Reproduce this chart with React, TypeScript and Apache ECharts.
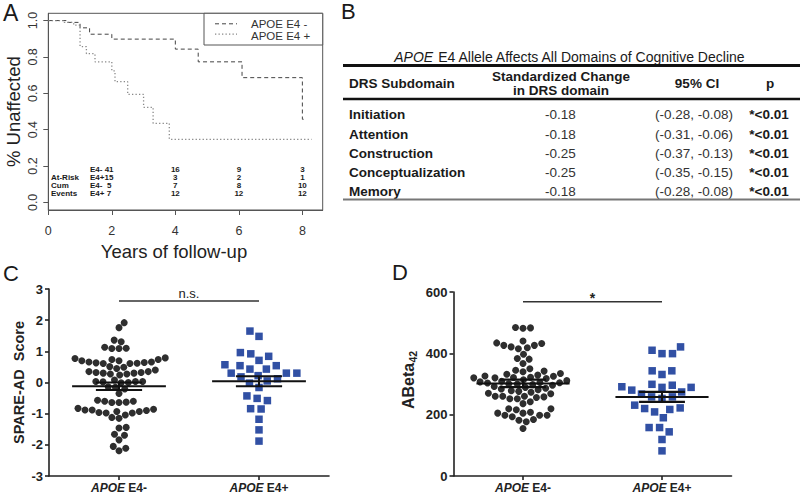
import React, { useEffect, useRef } from "react";
import * as echarts from "echarts";

const FONT = '"Liberation Sans", Arial, Helvetica, sans-serif';

// ---------------- Panel A: Kaplan-Meier ----------------
const kmNegYears = [0, 0.6, 1.0, 1.3, 2.0, 4.0, 4.72, 6.1, 8.0, 8.06];
const kmNegSurv = [1.0, 0.99, 0.96, 0.925, 0.898, 0.843, 0.773, 0.686, 0.457, 0.457];
const kmPosYears = [0, 0.5, 0.8, 1.0, 1.2, 1.47, 2.0, 2.1, 2.5, 3.0, 3.3, 3.81, 8.29];
const kmPosSurv = [1.0, 0.99, 0.975, 0.857, 0.818, 0.773, 0.723, 0.664, 0.594, 0.523, 0.435, 0.347, 0.347];
const kmLegend = ["APOE E4 -", "APOE E4 +"];
const xTicksA = [0, 2, 4, 6, 8];
const yTicksA = [0, 0.2, 0.4, 0.6, 0.8, 1.0];
const riskYears = [4, 6, 8];
const riskRowNames = ["", "At-Risk", "Cum", "Events"];
const riskGroupPrefix = ["E4- ", "E4+", "E4- ", "E4+"];
const atRiskNeg = [41, 16, 9, 3];
const atRiskPos = [15, 3, 2, 1];
const cumEventsNeg = [5, 7, 8, 10];
const cumEventsPos = [7, 12, 12, 12];

// ---------------- Panel B: table ----------------
const tableTitleItalic = "APOE";
const tableTitleRest = " E4 Allele Affects All Domains of Cognitive Decline";
const tableHeaders = ["DRS Subdomain", "Standardized Change", "in DRS domain", "95% CI", "p"];
const domains = ["Initiation", "Attention", "Construction", "Conceptualization", "Memory"];
const stdChange = [-0.18, -0.18, -0.25, -0.25, -0.18];
const ciLow = [-0.28, -0.31, -0.37, -0.35, -0.28];
const ciHigh = [-0.08, -0.06, -0.13, -0.15, -0.08];
const pValues = ["*<0.01", "*<0.01", "*<0.01", "*<0.01", "*<0.01"];

// ---------------- Panels C & D: dot plots ----------------
const groupNames = ["E4-", "E4+"];
const spareNeg = [
  1.92, 1.76, 1.31, 1.36, 1.10, 1.09, 1.09, 1.13,
  0.77, 0.74, 0.70, 0.66, 0.64, 0.62, 0.61, 0.61, 0.63, 0.66, 0.70, 0.74, 0.79,
  0.51, 0.45, 0.35, 0.32, 0.30, 0.27, 0.24, 0.27, 0.30, 0.32, 0.35, 0.40, 0.49,
  0.03, 0.03, 0.0, -0.01, 0.03, 0.02, 0.08, -0.15, -0.21, -0.14, -0.35,
  -0.60, -0.63, -0.64, -0.64, -0.60, -0.57,
  -0.86, -0.88, -0.93, -0.96, -0.98, -1.04, -0.98, -0.93, -0.90, -0.88, -0.83,
  -1.15, -1.12,
  -1.46, -1.44, -1.69, -1.66, -1.84, -2.05, -2.19, -2.11,
];
const sparePos = [
  1.65, 1.48, 0.96, 0.84, 0.92, 0.71, 0.54, 0.43, 0.43, 0.54, 0.57, 0.30, 0.22, 0.30,
  0.30, 0.12, 0.05, 0.18, -0.02, -0.16, -0.43, -0.51, -0.58, -0.85, -0.84, -1.18, -1.52, -1.88,
];
const spareMean = [-0.12, 0.04];
const spareSem = [0.12, 0.16];
const spareSig = { y: 2.615, label: "n.s." };

const abetaNeg = [
  484, 482, 483,
  432, 426, 418, 440, 415, 421, 426, 434,
  383, 397, 381, 367, 350,
  345, 340, 332, 325, 321, 320, 320, 322, 326, 329, 334, 342,
  318, 314, 311, 309, 307, 305, 304, 303, 301, 300, 298, 296,
  292, 289, 286, 284, 281, 278, 276, 273, 270, 268,
  260, 260, 256, 252, 236, 242, 252, 258, 260,
  219, 216, 205, 198, 198, 193, 198, 205, 208, 219,
  182, 177, 184, 155,
];
const abetaPos = [
  421, 399, 399, 410, 343, 331, 343, 296, 289, 289, 291, 299, 274, 280, 267,
  258, 253, 258, 222, 217, 209, 220, 231, 190, 144, 158, 158, 119, 82,
];
const abetaMean = [302, 258];
const abetaSem = [12, 16];
const abetaSig = { y: 568, label: "*" };

// ---------------- layout ----------------
const GA = { left: 48.3, top: 13.3, width: 274.4, height: 196.7, xMax: 8.64, yMin: -0.042, yMax: 1.04 };
const GC = { left: 49, top: 289, width: 280, height: 187 };
const GD = { left: 453.5, top: 292, width: 278, height: 184 };

function swarm(values: number[], pxPerUnitY: number, diam: number): number[] {
  const order = values.map((_, i) => i).sort((a, b) => values[a] - values[b]);
  const placed: { x: number; y: number }[] = [];
  const out: number[] = new Array(values.length).fill(0);
  let side = 1;
  for (const i of order) {
    const y = values[i] * pxPerUnitY;
    const forb: [number, number][] = [];
    for (const p of placed) {
      const dy = Math.abs(p.y - y);
      if (dy < diam) {
        const dx = Math.sqrt(diam * diam - dy * dy);
        forb.push([p.x - dx, p.x + dx]);
      }
    }
    const cands = [0];
    forb.forEach(([a, b]) => cands.push(a, b));
    const ok = cands.filter((c) => forb.every(([a, b]) => c <= a + 1e-6 || c >= b - 1e-6));
    let best = Infinity;
    ok.forEach((c) => (best = Math.min(best, Math.abs(c))));
    const near = ok.filter((c) => Math.abs(c) - best < 0.6);
    let pick = near.find((c) => Math.sign(c) === side);
    if (pick === undefined) pick = near[0];
    if (pick !== 0) side = -side;
    out[i] = pick;
    placed.push({ x: pick, y });
  }
  return out;
}

function dotData(values: number[], cat: number, pxY: number, pxX: number, diam: number) {
  const offs = swarm(values, pxY, diam);
  return values.map((v, i) => [cat + offs[i] / pxX, v]);
}

function buildOption() {
  const pxYC = GC.height / 6;
  const pxXC = GC.width / 2;
  const pxYD = GD.height / 600;
  const pxXD = GD.width / 2;
  const xPixA = (v: number) => GA.left + (v * GA.width) / GA.xMax;

  const errBars = (meanArr: number[], semArr: number[], xi: number) => ({
    type: "custom",
    xAxisIndex: xi,
    yAxisIndex: xi,
    z: 5,
    silent: true,
    encode: { x: 0, y: 1 },
    data: meanArr.map((m, i) => [i, m, semArr[i]]),
    renderItem: (_p: any, api: any) => {
      const c = api.value(0), m = api.value(1), s = api.value(2);
      const L = (x1: number, y1: number, x2: number, y2: number, w: number) => {
        const a = api.coord([x1, y1]);
        const b = api.coord([x2, y2]);
        return { type: "line", shape: { x1: a[0], y1: a[1], x2: b[0], y2: b[1] }, style: { stroke: "#111", lineWidth: w } };
      };
      return {
        type: "group",
        children: [
          L(c - 0.335, m, c + 0.335, m, 2),
          L(c - 0.165, m + s, c + 0.165, m + s, 2.2),
          L(c - 0.165, m - s, c + 0.165, m - s, 2.2),
          L(c, m - s, c, m + s, 2),
        ],
      };
    },
  });

  const sigBar = (sig: { y: number; label: string }, xi: number) => ({
    type: "custom",
    xAxisIndex: xi,
    yAxisIndex: xi,
    z: 5,
    silent: true,
    encode: { x: [0, 1], y: 2 },
    data: [[0, 1, sig.y]],
    renderItem: (_p: any, api: any) => {
      const a = api.coord([api.value(0), api.value(2)]);
      const b = api.coord([api.value(1), api.value(2)]);
      const star = sig.label === "*";
      return {
        type: "group",
        children: [
          { type: "line", shape: { x1: a[0], y1: a[1], x2: b[0], y2: b[1] }, style: { stroke: "#333", lineWidth: 1.5 } },
          {
            type: "text",
            x: (a[0] + b[0]) / 2,
            y: a[1] - (star ? 3.5 : 7.5),
            style: {
              text: sig.label,
              fill: "#222",
              fontSize: star ? 14 : 13,
              fontWeight: star ? "bold" : "normal",
              fontFamily: FONT,
              align: "center",
              verticalAlign: "middle",
            },
          },
        ],
      };
    },
  });

  const catAxis = (gi: number) => ({
    gridIndex: gi,
    type: "value",
    min: -0.5,
    max: 1.5,
    axisLine: { show: true, onZero: false, lineStyle: { color: "#222", width: 1.6 } },
    axisTick: { show: true, customValues: [0, 1], length: 4, lineStyle: { color: "#222", width: 1.6 } },
    axisLabel: {
      customValues: [0, 1],
      margin: 6,
      formatter: (v: number) => `{i|APOE}{b| ${groupNames[Math.round(v)]}}`,
      rich: {
        i: { fontStyle: "italic", fontWeight: "bold", fontSize: 12, fontFamily: FONT, color: "#222" },
        b: { fontWeight: "bold", fontSize: 12, fontFamily: FONT, color: "#222" },
      },
    },
    splitLine: { show: false },
  });

  const valAxis = (gi: number, min: number, max: number, interval: number) => ({
    gridIndex: gi,
    type: "value",
    min,
    max,
    interval,
    axisLine: { show: true, onZero: false, lineStyle: { color: "#222", width: 1.6 } },
    axisTick: { show: true, length: 4, lineStyle: { color: "#222", width: 1.6 } },
    axisLabel: { fontWeight: "bold", fontSize: 13, color: "#222", margin: 6, fontFamily: FONT },
    splitLine: { show: false },
  });

  const txt = (x: number, y: number, text: string, o: any = {}) => ({
    type: "text",
    x,
    y,
    silent: true,
    style: { text, fill: "#1a1a1a", fontSize: 13, fontFamily: FONT, align: "left", verticalAlign: "middle", ...o },
  });
  const hline = (x1: number, x2: number, y: number, w: number, c: string) => ({
    type: "line",
    silent: true,
    shape: { x1, y1: y, x2, y2: y },
    style: { stroke: c, lineWidth: w },
  });

  const graphic: any[] = [];
  // panel letters
  graphic.push(txt(3, 12.5, "A", { fontSize: 23 }));
  graphic.push(txt(341, 11.5, "B", { fontSize: 22 }));
  graphic.push(txt(3, 273, "C", { fontSize: 22 }));
  graphic.push(txt(392, 272, "D", { fontSize: 22 }));

  // panel A titles
  graphic.push({
    type: "group", x: 13, y: GA.top + GA.height / 2, rotation: Math.PI / 2, silent: true,
    children: [txt(0, 0, "% Unaffected", { fontSize: 18.5, align: "center", fill: "#222" })],
  });
  graphic.push(txt(174, 251.7, "Years of follow-up", { fontSize: 18.5, align: "center", fill: "#222" }));

  // panel A legend
  graphic.push({ type: "rect", silent: true, shape: { x: 204, y: GA.top, width: GA.left + GA.width - 204, height: 31.7 }, style: { fill: "#fff", stroke: "#555", lineWidth: 1 }, z: 10 });
  graphic.push({ type: "line", silent: true, z: 11, shape: { x1: 215, y1: 23.8, x2: 237, y2: 23.8 }, style: { stroke: "#444", lineWidth: 1, lineDash: [4, 3] } });
  graphic.push({ type: "line", silent: true, z: 11, shape: { x1: 215, y1: 34.2, x2: 237, y2: 34.2 }, style: { stroke: "#888", lineWidth: 1.3, lineDash: [1.3, 2.2] } });
  graphic.push({ ...txt(251, 24, kmLegend[0], { fontSize: 11.5, fill: "#333" }), z: 11 });
  graphic.push({ ...txt(251, 35.6, kmLegend[1], { fontSize: 11.5, fill: "#333" }), z: 11 });

  // at-risk / cumulative events table
  const riskRows = [atRiskNeg, atRiskPos, cumEventsNeg, cumEventsPos];
  const riskRowY = [169, 177, 185, 193];
  const rb = { fontSize: 8, fontWeight: "bold", fill: "#1a1a1a" };
  riskRows.forEach((row, r) => {
    if (riskRowNames[r]) graphic.push(txt(51, riskRowY[r], riskRowNames[r], rb));
    graphic.push(txt(90, riskRowY[r], riskGroupPrefix[r] + String(row[0]).padStart(2, " "), rb));
    riskYears.forEach((yr, k) => {
      graphic.push(txt(xPixA(yr), riskRowY[r], String(row[k + 1]), { ...rb, align: "center" }));
    });
  });

  // panel B table
  graphic.push({
    type: "text", x: 570, y: 56.7, silent: true,
    style: {
      text: `{i|${tableTitleItalic}}${tableTitleRest}`,
      fill: "#1a1a1a", fontSize: 14, fontFamily: FONT, align: "center", verticalAlign: "middle",
      rich: { i: { fontStyle: "italic", fontSize: 14, fontFamily: FONT, fill: "#1a1a1a" } },
    },
  });
  graphic.push(hline(343, 800, 65.5, 3, "#111"));
  const hb = { fontWeight: "bold", fontSize: 13.5 };
  graphic.push(txt(349, 83.5, tableHeaders[0], hb));
  graphic.push(txt(561, 76.7, tableHeaders[1], { ...hb, align: "center" }));
  graphic.push(txt(561, 90.3, tableHeaders[2], { ...hb, align: "center" }));
  graphic.push(txt(697, 83.5, tableHeaders[3], { ...hb, align: "center" }));
  graphic.push(txt(770, 83, tableHeaders[4], { ...hb, align: "center" }));
  graphic.push(hline(343, 800, 99, 2.5, "#111"));
  const rowY = [114.5, 134, 153, 172.3, 191];
  domains.forEach((d, i) => {
    graphic.push(txt(349, rowY[i], d, hb));
    graphic.push(txt(560.5, rowY[i], stdChange[i].toFixed(2), { fontSize: 13.5, align: "center", fill: "#333" }));
    graphic.push(txt(694, rowY[i], `(${ciLow[i].toFixed(2)}, ${ciHigh[i].toFixed(2)})`, { fontSize: 13.5, align: "center", fill: "#333" }));
    graphic.push(txt(769, rowY[i], pValues[i], { ...hb, align: "center" }));
  });
  graphic.push(hline(343, 800, 199.5, 2, "#777"));

  // panel C y title
  graphic.push({
    type: "group", x: 18.5, y: GC.top + GC.height / 2, rotation: Math.PI / 2, silent: true,
    children: [txt(0, 0, "SPARE-AD  Score", { fontSize: 14.5, fontWeight: "bold", align: "center", fill: "#222" })],
  });
  // panel D y title (ABeta with subscript 42)
  graphic.push({
    type: "group", x: 408.5, y: 381, rotation: Math.PI / 2, silent: true,
    children: [
      txt(-28, 0, "ABeta", { fontSize: 16, fontWeight: "bold", fill: "#222" }),
      txt(18.5, 4, "42", { fontSize: 10.5, fontWeight: "bold", fill: "#222" }),
    ],
  });

  return {
    animation: false,
    backgroundColor: "#fff",
    textStyle: { fontFamily: FONT },
    grid: [
      { left: GA.left, top: GA.top, width: GA.width, height: GA.height, show: true, borderColor: "#555", borderWidth: 1, backgroundColor: "transparent" },
      { left: GC.left, top: GC.top, width: GC.width, height: GC.height },
      { left: GD.left, top: GD.top, width: GD.width, height: GD.height },
    ],
    xAxis: [
      {
        gridIndex: 0,
        type: "value",
        min: 0,
        max: GA.xMax,
        axisLine: { show: true, onZero: false, lineStyle: { color: "#555", width: 1 } },
        axisTick: { show: true, length: 5, customValues: xTicksA, lineStyle: { color: "#555" } },
        axisLabel: { customValues: xTicksA, margin: 14, fontSize: 12.5, color: "#333", fontFamily: FONT },
        splitLine: { show: false },
      },
      catAxis(1),
      catAxis(2),
    ],
    yAxis: [
      {
        gridIndex: 0,
        type: "value",
        min: GA.yMin,
        max: GA.yMax,
        axisLine: { show: true, onZero: false, lineStyle: { color: "#555", width: 1 } },
        axisTick: { show: true, length: 5, customValues: yTicksA, lineStyle: { color: "#555" } },
        axisLabel: { customValues: yTicksA, formatter: (v: number) => v.toFixed(1), rotate: 90, margin: 9, fontSize: 12.5, color: "#333", fontFamily: FONT },
        splitLine: { show: false },
      },
      valAxis(1, -3, 3, 1),
      valAxis(2, 0, 600, 200),
    ],
    series: [
      {
        name: kmLegend[0], type: "line", xAxisIndex: 0, yAxisIndex: 0, step: "end", symbol: "none", silent: true,
        data: kmNegYears.map((x, i) => [x, kmNegSurv[i]]),
        lineStyle: { color: "#444", width: 1, type: [4, 3] },
      },
      {
        name: kmLegend[1], type: "line", xAxisIndex: 0, yAxisIndex: 0, step: "end", symbol: "none", silent: true,
        data: kmPosYears.map((x, i) => [x, kmPosSurv[i]]),
        lineStyle: { color: "#888", width: 1.3, type: [1.3, 2.2] },
      },
      {
        type: "scatter", xAxisIndex: 1, yAxisIndex: 1, symbol: "circle", symbolSize: 7, silent: true,
        itemStyle: { color: "#2e2e2e", opacity: 1 }, data: dotData(spareNeg, 0, pxYC, pxXC, 7.2),
      },
      {
        type: "scatter", xAxisIndex: 1, yAxisIndex: 1, symbol: "rect", symbolSize: 7.5, silent: true,
        itemStyle: { color: "#3150a4", opacity: 1 }, data: dotData(sparePos, 1, pxYC, pxXC, 10.5),
      },
      {
        type: "scatter", xAxisIndex: 2, yAxisIndex: 2, symbol: "circle", symbolSize: 7, silent: true,
        itemStyle: { color: "#2e2e2e", opacity: 1 }, data: dotData(abetaNeg, 0, pxYD, pxXD, 7.5),
      },
      {
        type: "scatter", xAxisIndex: 2, yAxisIndex: 2, symbol: "rect", symbolSize: 7.5, silent: true,
        itemStyle: { color: "#3150a4", opacity: 1 }, data: dotData(abetaPos, 1, pxYD, pxXD, 10.5),
      },
      errBars(spareMean, spareSem, 1),
      errBars(abetaMean, abetaSem, 2),
      sigBar(spareSig, 1),
      sigBar(abetaSig, 2),
    ],
    graphic,
  };
}

export default function App() {
  const ref = useRef<HTMLDivElement>(null);
  useEffect(() => {
    if (!ref.current) return;
    const chart = echarts.init(ref.current, undefined, { renderer: "svg", width: 800, height: 495 });
    chart.setOption(buildOption() as any);
    return () => chart.dispose();
  }, []);
  return <div ref={ref} style={{ position: "fixed", left: 0, top: 0, width: 800, height: 495, background: "#fff" }} />;
}
